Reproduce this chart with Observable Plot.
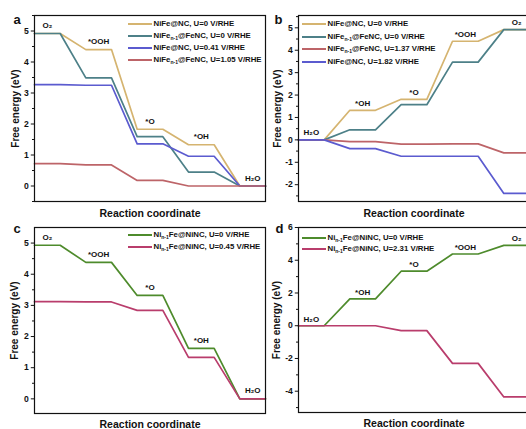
<!DOCTYPE html>
<html>
<head>
<meta charset="utf-8">
<script src="https://cdn.jsdelivr.net/npm/d3@7"></script>
<script src="https://cdn.jsdelivr.net/npm/@observablehq/plot@0.6"></script>
<style>
  html, body { margin: 0; padding: 0; background: #fff; }
  #fig { position: relative; width: 526px; height: 429px; overflow: hidden; font-family: "Liberation Sans", Arial, sans-serif; }
  .pnl { position: absolute; }
  .pnl svg { max-width: none !important; display: block; }
  .leg { position: absolute; font-weight: bold; font-size: 7.8px; color: #111; white-space: nowrap; }
  .leg .row { position: absolute; left: 0; height: 10px; line-height: 10px; display: flex; align-items: center; }
  .leg .sw { display: inline-block; width: 24px; height: 1.8px; margin-right: 1.5px; }
  .leg sub { font-size: 5px; vertical-align: -1.5px; line-height: 0; }
</style>
</head>
<body>
<div id="fig"></div>
<script>
// ---- data ----
const statesORR = ["O₂", "*OOH", "*O", "*OH", "H₂O"];
const statesOER = ["H₂O", "*OH", "*O", "*OOH", "O₂"];

// panel a (ORR direction)
const aNiFeNC_U0 = [4.92, 4.40, 1.83, 1.33, 0];
const aNiFeFeNC_U0 = [4.92, 3.49, 1.59, 0.45, 0];
const aNiFeNC_U041 = [3.27, 3.25, 1.36, 0.96, 0];
const aNiFeFeNC_U105 = [0.72, 0.68, 0.18, 0, 0];

// panel b (OER direction)
const bNiFeNC_U0 = [0, 1.32, 1.81, 4.40, 4.92];
const bNiFeFeNC_U0 = [0, 0.45, 1.57, 3.47, 4.92];
const bNiFeFeNC_U137 = [0, -0.08, -0.19, -0.18, -0.58];
const bNiFeNC_U182 = [0, -0.39, -0.73, -0.73, -2.39];

// panel c (ORR direction)
const cNiFeNiNC_U0 = [4.93, 4.38, 3.32, 1.62, 0];
const cNiFeNiNC_U045 = [3.12, 3.11, 2.84, 1.33, 0];

// panel d (OER direction)
const dNiFeNiNC_U0 = [0, 1.64, 3.33, 4.38, 4.91];
const dNiFeNiNC_U231 = [0, 0, -0.30, -2.30, -4.35];

const ticksA = [0, 1, 2, 3, 4, 5];
const minorA = [-0.5, 0.5, 1.5, 2.5, 3.5, 4.5, 5.5];
const ticksB = [-2, -1, 0, 1, 2, 3, 4, 5];
const minorB = [-2.5, -1.5, -0.5, 0.5, 1.5, 2.5, 3.5, 4.5, 5.5];
const ticksC = [0, 1, 2, 3, 4, 5];
const minorC = [0.5, 1.5, 2.5, 3.5, 4.5];
const ticksD = [-4, -2, 0, 2, 4, 6];
const minorD = [-5, -3, -1, 1, 3, 5];

const C = {
  tan: "#d5b470", teal: "#4d8088", blue: "#5b5bcf", red: "#bd6468",
  green: "#4e8b2c", crimson: "#b93d6c"
};

const yLabel = "Free energy (eV)";
const xLabel = "Reaction coordinate";

function panel(cfg) {
  const marks = [];
  cfg.series.forEach(s => {
    const rows = s.values.flatMap((v, i) => [{x: 2 * i, y: v}, {x: 2 * i + 1, y: v}]);
    marks.push(Plot.line(rows, {x: "x", y: "y", stroke: s.color, strokeWidth: 1.7}));
  });
  const lab = cfg.states.map((name, i) => ({
    name, x: 2 * i + 0.5, y: Math.max(...cfg.series.map(s => s.values[i]))
  }));
  marks.push(Plot.text(lab, {x: "x", y: "y", text: "name", dy: cfg.labelDy, fontSize: 8, fontWeight: "bold", fill: "#111"}));
  marks.push(Plot.axisY({ticks: cfg.minor, tickSize: 2, text: null, label: null, stroke: "#111"}));
  marks.push(Plot.axisY({ticks: cfg.ticks, tickSize: 3.2, tickPadding: 2.5, label: null, fontSize: 8.6, fontWeight: "bold", fill: "#111", stroke: "#111", tickFormat: d => String(d)}));
  marks.push(Plot.frame({stroke: "#111", strokeWidth: 1.2}));
  marks.push(Plot.text([yLabel], {frameAnchor: "left", rotate: -90, dx: cfg.yLabelDx, text: d => d, textAnchor: "middle", lineAnchor: "middle", fontSize: 10, fontWeight: "bold", fill: "#111"}));
  marks.push(Plot.text([xLabel], {frameAnchor: "bottom", dy: cfg.xLabelDy, text: d => d, textAnchor: "middle", lineAnchor: "middle", fontSize: 10.5, fontWeight: "bold", fill: "#111"}));
  marks.push(Plot.text([cfg.letter], {frameAnchor: "top-left", dx: cfg.letterDx, dy: cfg.letterDy, text: d => d, textAnchor: "start", lineAnchor: "bottom", fontSize: 13, fontWeight: "bold", fill: "#111"}));
  const svg = Plot.plot({
    width: cfg.width, height: cfg.height,
    marginLeft: cfg.ml, marginRight: cfg.mr, marginTop: cfg.mt, marginBottom: cfg.mb,
    x: {domain: [0, 9], axis: null},
    y: {domain: cfg.yDomain},
    style: {fontFamily: "'Liberation Sans', Arial, sans-serif", background: "transparent", overflow: "visible", maxWidth: "none"},
    marks
  });
  const wrap = document.createElement("div");
  wrap.className = "pnl";
  wrap.style.left = cfg.left + "px";
  wrap.style.top = cfg.top + "px";
  wrap.style.width = cfg.width + "px";
  wrap.style.height = cfg.height + "px";
  wrap.appendChild(svg);
  document.getElementById("fig").appendChild(wrap);
}

function legend(left, top, step, items) {
  const el = document.createElement("div");
  el.className = "leg";
  el.style.left = left + "px";
  el.style.top = top + "px";
  items.forEach((it, i) => {
    const r = document.createElement("div");
    r.className = "row";
    r.style.top = (i * step) + "px";
    r.innerHTML = `<span class="sw" style="background:${it.color}"></span><span>${it.html}</span>`;
    el.appendChild(r);
  });
  document.getElementById("fig").appendChild(el);
}

panel({left: 0, top: 0, width: 270, height: 220, ml: 34, mr: 5, mt: 15, mb: 19,
  yDomain: [-0.5, 5.5], ticks: ticksA, minor: minorA, states: statesORR, labelDy: -8,
  series: [{values: aNiFeNC_U0, color: C.tan}, {values: aNiFeFeNC_U0, color: C.teal},
           {values: aNiFeNC_U041, color: C.blue}, {values: aNiFeFeNC_U105, color: C.red}],
  letter: "a", letterDx: -21, letterDy: 8, yLabelDx: -19, xLabelDy: 12});

panel({left: 263, top: 0, width: 275, height: 220, ml: 35, mr: 9, mt: 15, mb: 19,
  yDomain: [-2.75, 5.55], ticks: ticksB, minor: minorB, states: statesOER, labelDy: -7,
  series: [{values: bNiFeNC_U0, color: C.tan}, {values: bNiFeFeNC_U0, color: C.teal},
           {values: bNiFeFeNC_U137, color: C.red}, {values: bNiFeNC_U182, color: C.blue}],
  letter: "b", letterDx: -24, letterDy: 8, yLabelDx: -21, xLabelDy: 12});

panel({left: 0, top: 212, width: 270, height: 217, ml: 34, mr: 5, mt: 15, mb: 16,
  yDomain: [-0.47, 5.5], ticks: ticksC, minor: minorC, states: statesORR, labelDy: -8,
  series: [{values: cNiFeNiNC_U0, color: C.green}, {values: cNiFeNiNC_U045, color: C.crimson}],
  letter: "c", letterDx: -21, letterDy: 5, yLabelDx: -20, xLabelDy: 11});

panel({left: 263, top: 212, width: 275, height: 217, ml: 35, mr: 9, mt: 15, mb: 17,
  yDomain: [-5.3, 6], ticks: ticksD, minor: minorD, states: statesOER, labelDy: -6.5,
  series: [{values: dNiFeNiNC_U0, color: C.green}, {values: dNiFeNiNC_U231, color: C.crimson}],
  letter: "d", letterDx: -23, letterDy: 5, yLabelDx: -21.5, xLabelDy: 11});

legend(128, 19, 12, [
  {color: C.tan, html: "NiFe@NC, U=0 V/RHE"},
  {color: C.teal, html: "NiFe<sub>n-1</sub>@FeNC, U=0 V/RHE"},
  {color: C.blue, html: "NiFe@NC, U=0.41 V/RHE"},
  {color: C.red, html: "NiFe<sub>n-1</sub>@FeNC, U=1.05 V/RHE"}
]);
legend(302, 19, 12.7, [
  {color: C.tan, html: "NiFe@NC, U=0 V/RHE"},
  {color: C.teal, html: "NiFe<sub>n-1</sub>@FeNC, U=0 V/RHE"},
  {color: C.red, html: "NiFe<sub>n-1</sub>@FeNC, U=1.37 V/RHE"},
  {color: C.blue, html: "NiFe@NC, U=1.82 V/RHE"}
]);
legend(128, 230, 11.7, [
  {color: C.green, html: "Ni<sub>n-1</sub>Fe@NiNC, U=0 V/RHE"},
  {color: C.crimson, html: "Ni<sub>n-1</sub>Fe@NiNC, U=0.45 V/RHE"}
]);
legend(302, 232.7, 11.6, [
  {color: C.green, html: "Ni<sub>n-1</sub>Fe@NiNC, U=0 V/RHE"},
  {color: C.crimson, html: "Ni<sub>n-1</sub>Fe@NiNC, U=2.31 V/RHE"}
]);
</script>
</body>
</html>
